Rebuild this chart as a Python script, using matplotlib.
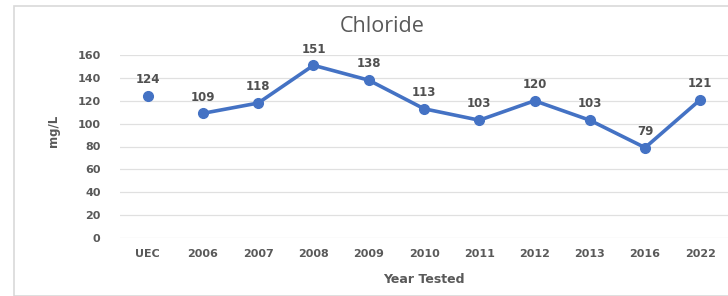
import matplotlib
matplotlib.use("Agg")
import matplotlib.pyplot as plt
from matplotlib.patches import Rectangle

categories = ["UEC", "2006", "2007", "2008", "2009", "2010", "2011", "2012", "2013", "2016", "2022"]
values = [124, 109, 118, 151, 138, 113, 103, 120, 103, 79, 121]
yticks = [0, 20, 40, 60, 80, 100, 120, 140, 160]

plt.rcParams['font.family'] = ['DejaVu Sans']
gray = "#595959"
blue = "#4472C4"

fig = plt.figure(figsize=(7.28, 2.96), dpi=100)
fig.patches.append(Rectangle((14/728, 0), 1, 1 - 6/296, transform=fig.transFigure,
                             fill=False, edgecolor="#d9d9d9", linewidth=1.2))
ax = fig.add_axes([120/728, 1 - 238/296, 608/728, (238 - 55)/296])

x = list(range(len(categories)))
ax.plot(x[:1], values[:1], marker="o", color=blue, markersize=7, linestyle="none")
ax.plot(x[1:], values[1:], marker="o", color=blue, markersize=7, linewidth=2.6)
for xi, v in zip(x, values):
    ax.annotate(str(v), (xi, v), textcoords="offset points", xytext=(0, 7),
                ha="center", va="bottom", fontsize=8.5, fontweight="semibold", color="#505050")

ax.set_xlim(-0.5, len(categories) - 0.5)
ax.set_ylim(0, 160)
ax.set_yticks(yticks)
ax.set_xticks(x)
ax.set_xticklabels(categories)
ax.grid(axis="y", color="#e0e0e0", linewidth=0.9)
ax.set_axisbelow(True)
for s in ax.spines.values():
    s.set_visible(False)
ax.tick_params(length=0, colors=gray, labelsize=8)
ax.tick_params(axis="y", pad=14)
ax.tick_params(axis="x", pad=8)
for lbl in ax.get_xticklabels() + ax.get_yticklabels():
    lbl.set_fontweight("bold")
ax.set_xlabel("Year Tested", fontsize=9, color=gray, fontweight="bold")
ax.xaxis.set_label_coords(0.5, -(273 - 238) / 183)
ax.set_ylabel("mg/L", fontsize=8.5, color=gray, fontweight="bold")
ax.yaxis.set_label_coords(-(120 - 60) / 608, (238 - 131) / 183)
fig.text(382/728, 1 - 26/296, "Chloride", ha="center", va="center", fontsize=15.5,
         color=gray, family="Open Sans")

fig.savefig("out.png", dpi=100)
